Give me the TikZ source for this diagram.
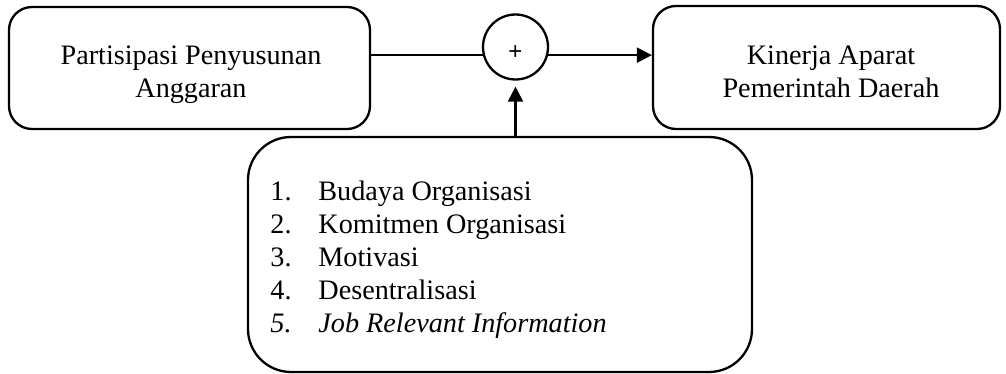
\documentclass[tikz,border=0pt]{standalone}
\usepackage{fontspec}
\setmainfont{Liberation Serif}
\newfontfamily\plusfont{Liberation Sans}
\usetikzlibrary{arrows.meta}
\tikzset{
  boxstyle/.style={draw, line width=1.15pt, rectangle, inner sep=0pt},
  txt/.style={inner sep=0pt, anchor=base, font=\fontsize{14.1}{16.35}\selectfont},
  lst/.style={inner sep=0pt, anchor=base west, font=\fontsize{14.1}{16.5}\selectfont},
  conn/.style={line width=1.15pt},
  arr/.style={line width=1.15pt, -{Triangle[length=7.5pt,width=7.5pt]}},
}
\begin{document}
\begin{tikzpicture}[x=0.5pt,y=-0.5pt]
\useasboundingbox (0,0) rectangle (1006,374);
\node[boxstyle, rounded corners=11.5pt, minimum width=180.5pt, minimum height=61pt] (L) at (189.5,68) {};
\node[boxstyle, rounded corners=11.5pt, minimum width=173.5pt, minimum height=61.5pt] (R) at (826.5,67.5) {};
\node[boxstyle, rounded corners=21.5pt, minimum width=252pt, minimum height=117.5pt] (B) at (500,254.5) {};
\node[draw, line width=1.15pt, circle, minimum size=32.5pt, inner sep=0pt] (P) at (515.5,47) {};
\node[inner sep=0pt, font=\plusfont\fontsize{12}{14}\selectfont] (plus) at (515.5,52.5) {+};
\node[txt] (Ltext) at (191,65) {\begin{tabular}[t]{@{}c@{}}Partisipasi Penyusunan\\Anggaran\end{tabular}};
\node[txt] (Rtext) at (831,65) {\begin{tabular}[t]{@{}c@{}}Kinerja Aparat\\Pemerintah Daerah\end{tabular}};
\node[lst] (list) at (270,200.7) {\begin{tabular}[t]{@{}l@{}}
\makebox[24pt][l]{1.}Budaya Organisasi\\
\makebox[24pt][l]{2.}Komitmen Organisasi\\
\makebox[24pt][l]{3.}Motivasi\\
\makebox[24pt][l]{4.}Desentralisasi\\
\itshape\makebox[24pt][l]{5.}Job Relevant Information
\end{tabular}};
\draw[conn] (L.east |- P.194) -- (P.194);
\draw[arr] (P.-14) -- (R.west |- P.-14);
\draw[arr, shorten >=3pt] (P.south |- B.north) -- (P.south);
\end{tikzpicture}
\end{document}
